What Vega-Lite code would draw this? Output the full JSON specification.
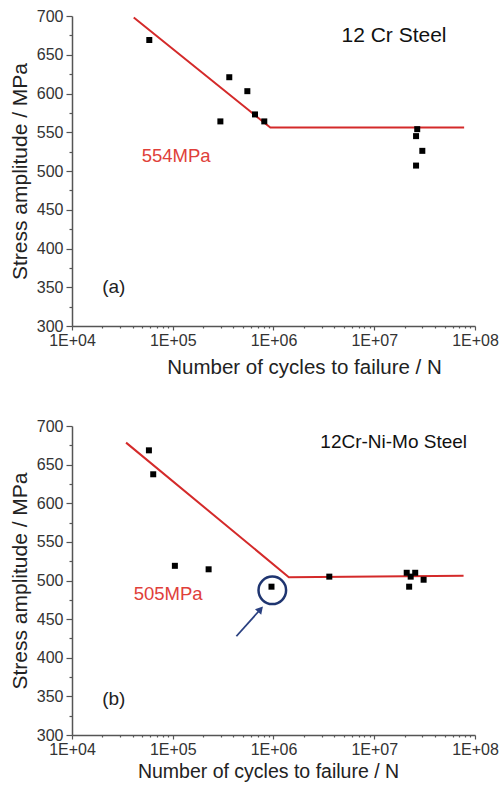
{
  "$schema": "https://vega.github.io/schema/vega-lite/v6.json",
  "padding": {"left": 9, "top": 8, "right": 10, "bottom": 5},
  "spacing": 40,
  "config": {
    "view": {"stroke": null},
    "font": "Liberation Sans",
    "axis": {
      "grid": false,
      "domainColor": "#555",
      "domainWidth": 1.5,
      "tickColor": "#555",
      "tickWidth": 1.2,
      "labelColor": "#333",
      "titleColor": "#222",
      "labelFont": "Liberation Sans",
      "titleFont": "Liberation Sans",
      "titleFontWeight": "normal",
      "labelFontSize": 16,
      "labelOverlap": false,
      "labelFlush": false,
      "labelBound": false,
      "tickCount": 100
    }
  },
  "datasets": {
    "pointsA": [
      {"N": 58500, "S": 669},
      {"N": 297000, "S": 564},
      {"N": 364000, "S": 621},
      {"N": 550000, "S": 603},
      {"N": 655000, "S": 573},
      {"N": 810000, "S": 564},
      {"N": 26700000, "S": 554},
      {"N": 26000000, "S": 545},
      {"N": 30000000, "S": 526},
      {"N": 26000000, "S": 507}
    ],
    "lineA": [
      {"N": 41000, "S": 698},
      {"N": 930000, "S": 556},
      {"N": 78000000, "S": 556}
    ],
    "pointsB": [
      {"N": 58000, "S": 668.5},
      {"N": 64000, "S": 637.5},
      {"N": 105000, "S": 519},
      {"N": 227000, "S": 514.5},
      {"N": 955000, "S": 492},
      {"N": 3580000, "S": 505},
      {"N": 21000000, "S": 510},
      {"N": 25500000, "S": 510},
      {"N": 23000000, "S": 505},
      {"N": 22200000, "S": 492},
      {"N": 30900000, "S": 501}
    ],
    "lineB": [
      {"N": 34400, "S": 678.5},
      {"N": 1420000, "S": 504.3},
      {"N": 77000000, "S": 506}
    ]
  },
  "vconcat": [
    {
      "width": 403,
      "height": 310,
      "layer": [
        {
          "data": {"name": "lineA"},
          "mark": {"type": "line", "color": "#d42a2a", "strokeWidth": 2},
          "encoding": {
            "x": {
              "field": "N", "type": "quantitative",
              "scale": {"type": "log", "domain": [10000, 100000000], "nice": false},
              "axis": {
                "title": "Number of cycles to failure / N",
                "titleFontSize": 20.5,
                "titlePadding": 9,
                "titleX": 232,
                "labelPadding": 2,
                "labelOverlap": false,
                "tickCount": 100,
                "values": [10000,20000,30000,40000,50000,60000,70000,80000,90000,100000,200000,300000,400000,500000,600000,700000,800000,900000,1000000,2000000,3000000,4000000,5000000,6000000,7000000,8000000,9000000,10000000,20000000,30000000,40000000,50000000,60000000,70000000,80000000,90000000,100000000],
                "labelExpr": "indexof([10000,100000,1000000,10000000,100000000], datum.value) >= 0 ? '1E+0' + round(log(datum.value)/LN10) : ''",
                "tickSize": {"condition": {"test": "indexof([10000,100000,1000000,10000000,100000000], datum.value) >= 0", "value": 4}, "value": 2}
              }
            },
            "y": {
              "field": "S", "type": "quantitative",
              "scale": {"domain": [300, 700], "nice": false, "zero": false},
              "axis": {
                "title": "Stress amplitude / MPa",
                "titleFontSize": 21,
                "titlePadding": 6,
                "labelPadding": 3,
                "labelOverlap": false,
                "tickCount": 100,
                "values": [300,325,350,375,400,425,450,475,500,525,550,575,600,625,650,675,700],
                "labelExpr": "indexof([300,350,400,450,500,550,600,650,700], datum.value) >= 0 ? datum.label : ''",
                "tickSize": {"condition": {"test": "indexof([300,350,400,450,500,550,600,650,700], datum.value) >= 0", "value": 6}, "value": 3}
              }
            }
          }
        },
        {
          "data": {"name": "pointsA"},
          "mark": {"type": "point", "shape": "square", "filled": true, "color": "#000", "opacity": 1, "size": 36},
          "encoding": {
            "x": {"field": "N", "type": "quantitative"},
            "y": {"field": "S", "type": "quantitative"}
          }
        },
        {
          "data": {"values": [{"N": 15700000, "S": 674, "label": "12 Cr Steel"}]},
          "mark": {"type": "text", "fontSize": 21, "color": "#111", "font": "Liberation Sans"},
          "encoding": {
            "x": {"field": "N", "type": "quantitative"},
            "y": {"field": "S", "type": "quantitative"},
            "text": {"field": "label"}
          }
        },
        {
          "data": {"values": [{"N": 108000, "S": 520, "label": "554MPa"}]},
          "mark": {"type": "text", "fontSize": 18.5, "color": "#e0403a", "font": "Liberation Sans"},
          "encoding": {
            "x": {"field": "N", "type": "quantitative"},
            "y": {"field": "S", "type": "quantitative"},
            "text": {"field": "label"}
          }
        },
        {
          "data": {"values": [{"N": 26000, "S": 350, "label": "(a)"}]},
          "mark": {"type": "text", "fontSize": 19, "color": "#222", "font": "Liberation Sans"},
          "encoding": {
            "x": {"field": "N", "type": "quantitative"},
            "y": {"field": "S", "type": "quantitative"},
            "text": {"field": "label"}
          }
        }
      ]
    },
    {
      "width": 403,
      "height": 309,
      "layer": [
        {
          "data": {"name": "lineB"},
          "mark": {"type": "line", "color": "#d42a2a", "strokeWidth": 2},
          "encoding": {
            "x": {
              "field": "N", "type": "quantitative",
              "scale": {"type": "log", "domain": [10000, 100000000], "nice": false},
              "axis": {
                "title": "Number of cycles to failure / N",
                "titleFontSize": 19.5,
                "titlePadding": 5,
                "titleX": 196,
                "labelPadding": 2,
                "labelOverlap": false,
                "tickCount": 100,
                "values": [10000,20000,30000,40000,50000,60000,70000,80000,90000,100000,200000,300000,400000,500000,600000,700000,800000,900000,1000000,2000000,3000000,4000000,5000000,6000000,7000000,8000000,9000000,10000000,20000000,30000000,40000000,50000000,60000000,70000000,80000000,90000000,100000000],
                "labelExpr": "indexof([10000,100000,1000000,10000000,100000000], datum.value) >= 0 ? '1E+0' + round(log(datum.value)/LN10) : ''",
                "tickSize": {"condition": {"test": "indexof([10000,100000,1000000,10000000,100000000], datum.value) >= 0", "value": 4}, "value": 2}
              }
            },
            "y": {
              "field": "S", "type": "quantitative",
              "scale": {"domain": [300, 700], "nice": false, "zero": false},
              "axis": {
                "title": "Stress amplitude / MPa",
                "titleFontSize": 21,
                "titlePadding": 6,
                "labelPadding": 3,
                "labelOverlap": false,
                "tickCount": 100,
                "values": [300,325,350,375,400,425,450,475,500,525,550,575,600,625,650,675,700],
                "labelExpr": "indexof([300,350,400,450,500,550,600,650,700], datum.value) >= 0 ? datum.label : ''",
                "tickSize": {"condition": {"test": "indexof([300,350,400,450,500,550,600,650,700], datum.value) >= 0", "value": 6}, "value": 3}
              }
            }
          }
        },
        {
          "data": {"name": "pointsB"},
          "mark": {"type": "point", "shape": "square", "filled": true, "color": "#000", "opacity": 1, "size": 36},
          "encoding": {
            "x": {"field": "N", "type": "quantitative"},
            "y": {"field": "S", "type": "quantitative"}
          }
        },
        {
          "data": {"values": [{"N": 973000, "S": 487.3}]},
          "mark": {"type": "point", "shape": "circle", "filled": false, "stroke": "#1f3570", "strokeWidth": 2.5, "opacity": 1, "size": 760},
          "encoding": {
            "x": {"field": "N", "type": "quantitative"},
            "y": {"field": "S", "type": "quantitative"}
          }
        },
        {
          "data": {"values": [{"N": 428000, "S": 427.8, "N2": 743000, "S2": 462.8}]},
          "mark": {"type": "rule", "color": "#2a4080", "strokeWidth": 1.8},
          "encoding": {
            "x": {"field": "N", "type": "quantitative"},
            "y": {"field": "S", "type": "quantitative"},
            "x2": {"field": "N2"},
            "y2": {"field": "S2"}
          }
        },
        {
          "data": {"values": [{"N": 743000, "S": 462.8}]},
          "mark": {"type": "point", "shape": "triangle-up", "filled": true, "color": "#2a4080", "opacity": 1, "size": 70, "angle": 41.7},
          "encoding": {
            "x": {"field": "N", "type": "quantitative"},
            "y": {"field": "S", "type": "quantitative"}
          }
        },
        {
          "data": {"values": [{"N": 15600000, "S": 679, "label": "12Cr-Ni-Mo Steel"}]},
          "mark": {"type": "text", "fontSize": 19, "color": "#111", "font": "Liberation Sans"},
          "encoding": {
            "x": {"field": "N", "type": "quantitative"},
            "y": {"field": "S", "type": "quantitative"},
            "text": {"field": "label"}
          }
        },
        {
          "data": {"values": [{"N": 90000, "S": 482, "label": "505MPa"}]},
          "mark": {"type": "text", "fontSize": 18.5, "color": "#e0403a", "font": "Liberation Sans"},
          "encoding": {
            "x": {"field": "N", "type": "quantitative"},
            "y": {"field": "S", "type": "quantitative"},
            "text": {"field": "label"}
          }
        },
        {
          "data": {"values": [{"N": 26000, "S": 347, "label": "(b)"}]},
          "mark": {"type": "text", "fontSize": 19, "color": "#222", "font": "Liberation Sans"},
          "encoding": {
            "x": {"field": "N", "type": "quantitative"},
            "y": {"field": "S", "type": "quantitative"},
            "text": {"field": "label"}
          }
        }
      ]
    }
  ]
}
